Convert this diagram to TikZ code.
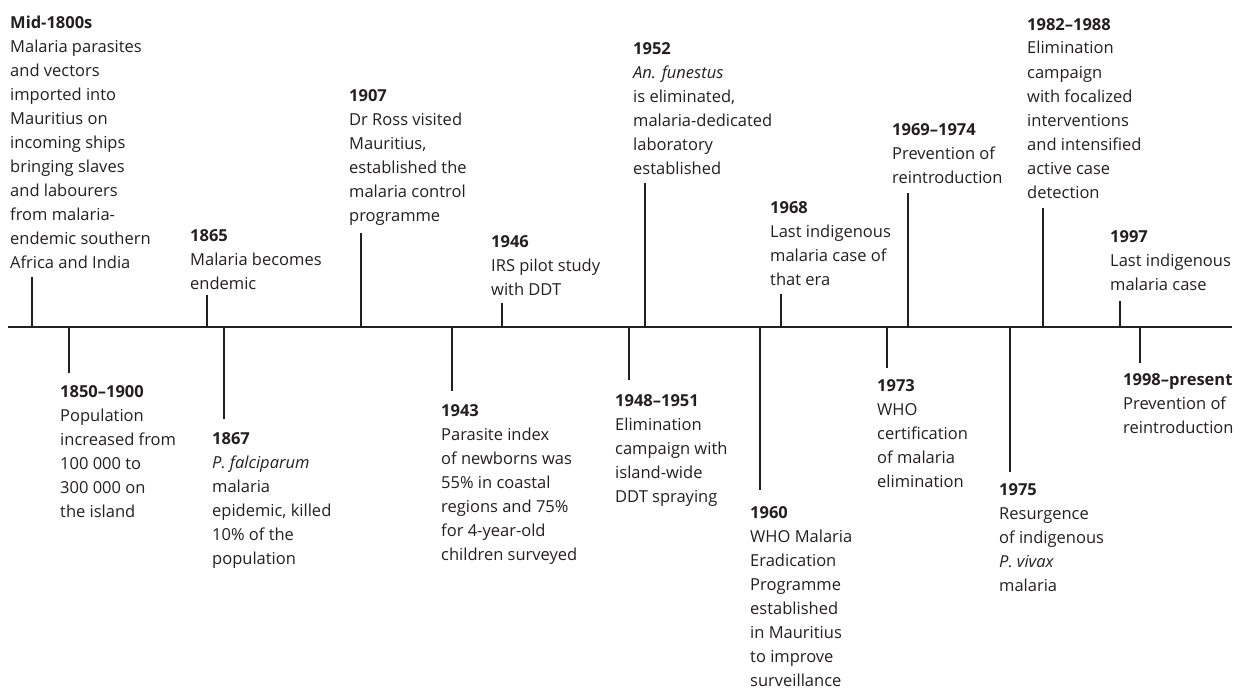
\documentclass[tikz,border=0pt]{standalone}
\usepackage{fontspec}
\setmainfont{Open Sans}
\definecolor{ink}{HTML}{231F20}
\newcommand\evtxt[2]{\begin{tabular}[t]{@{}l@{}}\textbf{#1}\\#2\end{tabular}}
\begin{document}
\begin{tikzpicture}[x=1pt,y=-1pt,
  lbl/.style={anchor=base west, inner sep=0pt, text=ink, font=\fontsize{16.5}{24}\selectfont},
  axisline/.style={draw=ink, line width=1.9pt},
  tick/.style={draw=ink, line width=1.9pt}]
\useasboundingbox (0,0) rectangle (1241,688);
% axis
\coordinate (ax0) at (8,327);
\coordinate (ax1) at (1232,327);
\draw[axisline] (ax0) -- (ax1);
% ---- labels above ----
\node[lbl] (l1) at (10,28) {\evtxt{Mid-1800s}{Malaria parasites\\and vectors\\imported into\\Mauritius on\\incoming ships\\bringing slaves\\and labourers\\from malaria-\\endemic southern\\Africa and India}};
\node[lbl] (l2) at (190,241) {\evtxt{1865}{Malaria becomes\\endemic}};
\node[lbl] (l3) at (349,101) {\evtxt{1907}{Dr Ross visited\\Mauritius,\\established the\\malaria control\\programme}};
\node[lbl] (l4) at (491,247) {\evtxt{1946}{IRS pilot study\\with DDT}};
\node[lbl] (l5) at (633,54) {\evtxt{1952}{\textit{An. funestus}\\is eliminated,\\malaria-dedicated\\laboratory\\established}};
\node[lbl] (l6) at (770,213) {\evtxt{1968}{Last indigenous\\malaria case of\\that era}};
\node[lbl] (l7) at (892,135) {\evtxt{1969–1974}{Prevention of\\reintroduction}};
\node[lbl] (l8) at (1027,30) {\evtxt{1982–1988}{Elimination\\campaign\\with focalized\\interventions\\and intensified\\active case\\detection}};
\node[lbl] (l9) at (1110,242) {\evtxt{1997}{Last indigenous\\malaria case}};
% ---- labels below ----
\node[lbl] (b1) at (60,397) {\evtxt{1850–1900}{Population\\increased from\\100 000 to\\300 000 on\\the island}};
\node[lbl] (b2) at (212,444) {\evtxt{1867}{\textit{P. falciparum}\\malaria\\epidemic, killed\\10\% of the\\population}};
\node[lbl] (b3) at (441,416) {\evtxt{1943}{Parasite index\\of newborns was\\55\% in coastal\\regions and 75\%\\for 4-year-old\\children surveyed}};
\node[lbl] (b4) at (615,406) {\evtxt{1948–1951}{Elimination\\campaign with\\island-wide\\DDT spraying}};
\node[lbl] (b5) at (750,518) {\evtxt{1960}{WHO Malaria\\Eradication\\Programme\\established\\in Mauritius\\to improve\\surveillance}};
\node[lbl] (b6) at (877,391) {\evtxt{1973}{WHO\\certification\\of malaria\\elimination}};
\node[lbl] (b7) at (999,495) {\evtxt{1975}{Resurgence\\of indigenous\\\textit{P. vivax}\\malaria}};
\node[lbl] (b8) at (1123,385) {\evtxt{1998–present}{Prevention of\\reintroduction}};
% ---- ticks above ----
\foreach \n/\x/\y in {1/32/277, 2/207/295, 3/361/233, 4/502/303, 5/645/183, 6/781/294, 7/908/193, 8/1043/208, 9/1120/301}{
  \coordinate (ta\n) at (\x,327);
  \coordinate (te\n) at (\x,\y);
  \draw[tick] (ta\n) -- (te\n);
}
% ---- ticks below ----
\foreach \n/\x/\y in {1/69/373, 2/224/419, 3/452/391, 4/629/380, 5/760/490, 6/887/368, 7/1010/472, 8/1140/363}{
  \coordinate (tb\n) at (\x,327);
  \coordinate (tf\n) at (\x,\y);
  \draw[tick] (tb\n) -- (tf\n);
}
\end{tikzpicture}
\end{document}
